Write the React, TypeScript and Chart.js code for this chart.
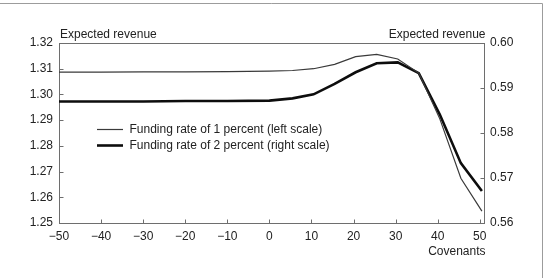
import { useEffect, useRef } from "react";
import { Chart, registerables } from "chart.js";

Chart.register(...registerables);

// Covenant levels at which expected revenue was evaluated
const covenants = [-50, -40, -30, -20, -10, 0, 5.5, 10.5, 15.5, 20.5, 25.5, 30.5, 35.5, 40.5, 45.5, 50.5];
// Expected revenue with a 1 percent funding rate (left scale)
const revenueRate1 = [1.3087, 1.3087, 1.3088, 1.3088, 1.3089, 1.3091, 1.3093, 1.31, 1.3117, 1.3147, 1.3156, 1.3138, 1.3083, 1.2905, 1.2674, 1.2546];
// Expected revenue with a 2 percent funding rate (right scale)
const revenueRate2 = [0.587, 0.587, 0.587, 0.5871, 0.5871, 0.5872, 0.5877, 0.5886, 0.5909, 0.5935, 0.5955, 0.5957, 0.5933, 0.5841, 0.5733, 0.5671];

const xTicks = [-50, -40, -30, -20, -10, 0, 10, 20, 30, 40, 50];
const leftTicks = [1.25, 1.26, 1.27, 1.28, 1.29, 1.3, 1.31, 1.32];
const rightTicks = [0.56, 0.57, 0.58, 0.59, 0.6];

const seriesNames = ["Funding rate of 1 percent (left scale)", "Funding rate of 2 percent (right scale)"];
const yTitle = "Expected revenue";
const xTitle = "Covenants";

const FONT = "'Liberation Sans', Arial, Helvetica, sans-serif";
const TEXT = "#222";
const AXIS = "#6e6e6e";
const THIN = "#3a3a3a";
const THICK = "#0d0d0d";

const decor = {
  id: "decor",
  afterDraw(chart: any) {
    const { ctx, chartArea: a, scales } = chart;
    const top = Math.round(a.top) + 0.5;
    const bottom = Math.round(a.bottom) + 0.5;
    const left = Math.round(a.left) + 0.5;
    const right = Math.round(a.right) + 0.5;
    ctx.save();

    // outer frame (top and right edges)
    ctx.strokeStyle = "#9c9c9c";
    ctx.lineWidth = 1;
    ctx.beginPath();
    ctx.moveTo(0, 3.5);
    ctx.lineTo(542.5, 3.5);
    ctx.lineTo(542.5, 278);
    ctx.stroke();

    // top edge of the plot box and inward tick marks
    ctx.strokeStyle = AXIS;
    ctx.beginPath();
    ctx.moveTo(left, top);
    ctx.lineTo(right, top);
    const tl = 4;
    xTicks.slice(1).forEach((v) => {
      const px = Math.round(scales.x.getPixelForValue(v)) + 0.5;
      ctx.moveTo(px, bottom);
      ctx.lineTo(px, bottom - tl);
    });
    leftTicks.slice(1, -1).forEach((v) => {
      const py = Math.round(scales.yL.getPixelForValue(v)) + 0.5;
      ctx.moveTo(left, py);
      ctx.lineTo(left + tl, py);
    });
    rightTicks.slice(1, -1).forEach((v) => {
      const py = Math.round(scales.yR.getPixelForValue(v)) + 0.5;
      ctx.moveTo(right, py);
      ctx.lineTo(right - tl, py);
    });
    ctx.stroke();

    // axis titles
    ctx.fillStyle = TEXT;
    ctx.font = `12px ${FONT}`;
    ctx.textBaseline = "middle";
    ctx.textAlign = "left";
    ctx.fillText(yTitle, a.left + 1, 35);
    ctx.textAlign = "right";
    ctx.fillText(yTitle, a.right + 1.5, 35);
    ctx.fillText(xTitle, a.right + 1.5, 252);

    // legend
    const lx0 = 97;
    const lx1 = 123;
    const rows = [129, 145];
    const widths = [1.2, 2.6];
    const colors = [THIN, THICK];
    rows.forEach((y, i) => {
      ctx.strokeStyle = colors[i];
      ctx.lineWidth = widths[i];
      ctx.beginPath();
      ctx.moveTo(lx0, y + 0.5);
      ctx.lineTo(lx1, y + 0.5);
      ctx.stroke();
      ctx.textAlign = "left";
      ctx.fillText(seriesNames[i], 129.5, y + 0.5);
    });

    ctx.restore();
  },
};

function fmtX(v: number) {
  return v < 0 ? "\u2212" + Math.abs(v) : String(v);
}

export default function App() {
  const ref = useRef<HTMLCanvasElement | null>(null);

  useEffect(() => {
    if (!ref.current) return;
    const chart = new Chart(ref.current, {
      type: "line",
      data: {
        datasets: [
          {
            label: seriesNames[0],
            data: covenants.map((x, i) => ({ x, y: revenueRate1[i] })),
            borderColor: THIN,
            borderWidth: 1.2,
            pointRadius: 0,
            tension: 0,
            yAxisID: "yL",
          },
          {
            label: seriesNames[1],
            data: covenants.map((x, i) => ({ x, y: revenueRate2[i] })),
            borderColor: THICK,
            borderWidth: 2.6,
            pointRadius: 0,
            tension: 0,
            yAxisID: "yR",
          },
        ],
      },
      options: {
        animation: false,
        responsive: false,
        devicePixelRatio: 1,
        layout: { padding: { top: 43, left: 0, right: 0, bottom: 0 } },
        plugins: { legend: { display: false }, tooltip: { enabled: false } },
        scales: {
          x: {
            type: "linear",
            position: "bottom",
            min: -50,
            max: 51,
            grid: { display: false, drawTicks: false },
            border: { display: true, color: AXIS, width: 1 },
            afterBuildTicks: (s: any) => {
              s.ticks = xTicks.map((value) => ({ value }));
            },
            afterFit: (s: any) => {
              s.height = 55;
            },
            ticks: {
              padding: 6,
              color: TEXT,
              font: { family: FONT, size: 12 },
              maxRotation: 0,
              autoSkip: false,
              callback: (v: any) => fmtX(Number(v)),
            },
          },
          yL: {
            type: "linear",
            position: "left",
            min: 1.25,
            max: 1.32,
            grid: { display: false, drawTicks: false },
            border: { display: true, color: AXIS, width: 1 },
            afterBuildTicks: (s: any) => {
              s.ticks = leftTicks.map((value) => ({ value }));
            },
            afterFit: (s: any) => {
              s.width = 59;
            },
            ticks: {
              padding: 6,
              color: TEXT,
              font: { family: FONT, size: 12 },
              autoSkip: false,
              callback: (v: any) => Number(v).toFixed(2),
            },
          },
          yR: {
            type: "linear",
            position: "right",
            min: 0.56,
            max: 0.6,
            grid: { display: false, drawTicks: false },
            border: { display: true, color: AXIS, width: 1 },
            afterBuildTicks: (s: any) => {
              s.ticks = rightTicks.map((value) => ({ value }));
            },
            afterFit: (s: any) => {
              s.width = 62;
            },
            ticks: {
              padding: 6,
              color: TEXT,
              font: { family: FONT, size: 12 },
              autoSkip: false,
              callback: (v: any) => Number(v).toFixed(2),
            },
          },
        },
      },
      plugins: [decor],
    });
    return () => chart.destroy();
  }, []);

  return (
    <div style={{ position: "fixed", left: 0, top: 0, width: 546, height: 278, background: "#fff" }}>
      <canvas ref={ref} width={546} height={278} style={{ display: "block", width: 546, height: 278 }} />
    </div>
  );
}
